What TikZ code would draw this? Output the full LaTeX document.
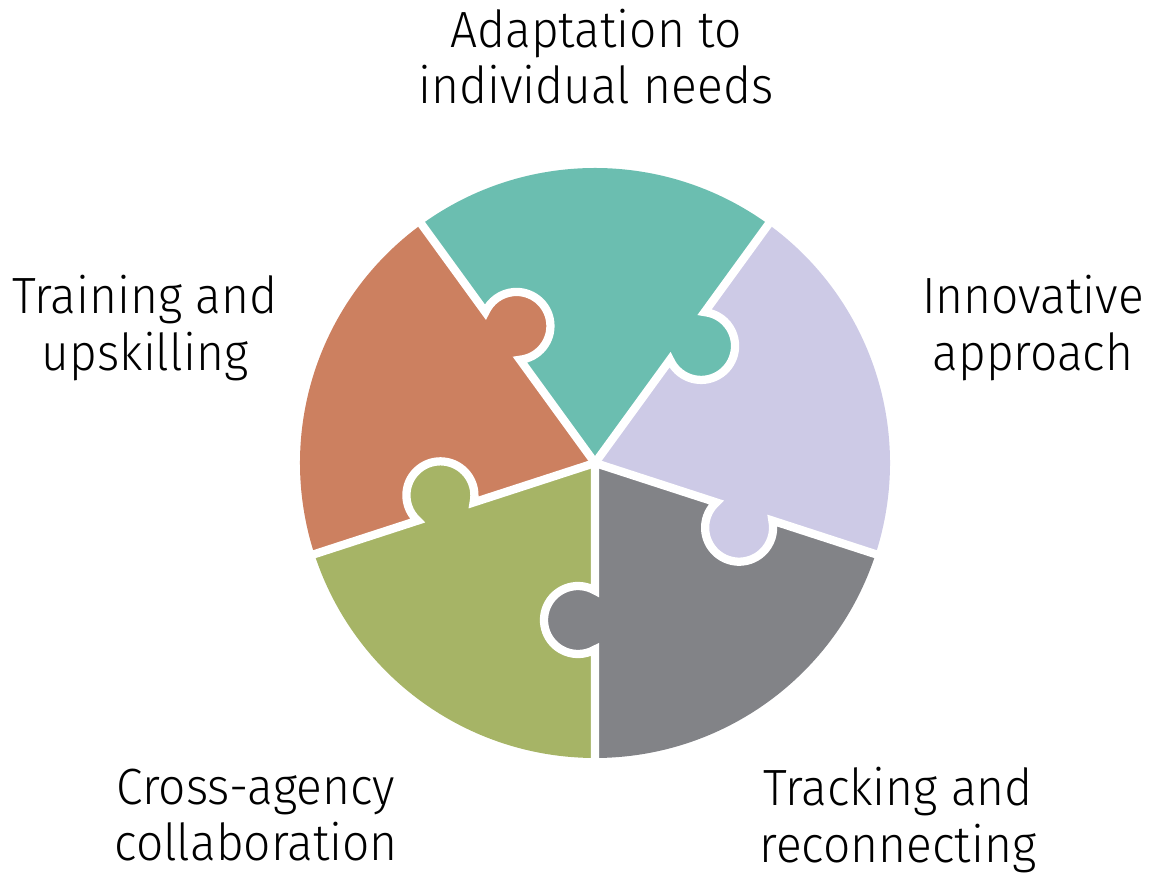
\documentclass[tikz,border=0pt]{standalone}
\usepackage{fontspec}
\IfFontExistsTF{Fira Sans Light}{\setmainfont{Fira Sans Light}[FakeStretch=0.94]}{\setmainfont{Fira Sans}[FakeStretch=0.92]}
\definecolor{pieceTeal}{RGB}{107,190,176}
\definecolor{pieceLavender}{RGB}{205,202,230}
\definecolor{pieceGray}{RGB}{130,131,135}
\definecolor{pieceGreen}{RGB}{166,180,102}
\definecolor{pieceOrange}{RGB}{204,128,96}
\begin{document}
\begin{tikzpicture}[x=0.02cm, y=0.02cm,
    labeltext/.style={align=center, font=\fontsize{29}{32}\selectfont},
    divider/.style={white, line width=4.7pt}]
\useasboundingbox (0,0) rectangle (1154,874);

\begin{scope}[shift={(595,411)}]
% Puzzle pieces
\foreach \a/\col in {-18/pieceLavender, 54/pieceTeal, 126/pieceOrange, 198/pieceGreen, 270/pieceGray} {
    \fill[\col] (0,0) -- (\a:127.6) arc[start angle=\a+150, end angle=\a+390, radius=34]
        -- (\a:295) arc[start angle=\a, end angle=\a+72, radius=295]
        -- (\a+72:186.4) arc[start angle=\a+102, end angle=\a-138, radius=34] -- cycle;
}

% White seams between pieces
\foreach \a in {-18,54,126,198,270} {
    \draw[divider] (0,0) -- (\a:127.6) arc[start angle=\a+150, end angle=\a+390, radius=34] -- (\a:300);
}
\end{scope}

% Labels
\node[labeltext] (adapt) at (596,817) {Adaptation to\\individual needs};
\node[labeltext] (training) at (145,546) {Training and\\upskilling};
\node[labeltext] (innov) at (1033,546) {Innovative\\approach};
\node[labeltext] (cross) at (256,59) {Cross-agency\\collaboration};
\node[labeltext] (tracking) at (898,54) {Tracking and\\reconnecting};

\end{tikzpicture}
\end{document}
